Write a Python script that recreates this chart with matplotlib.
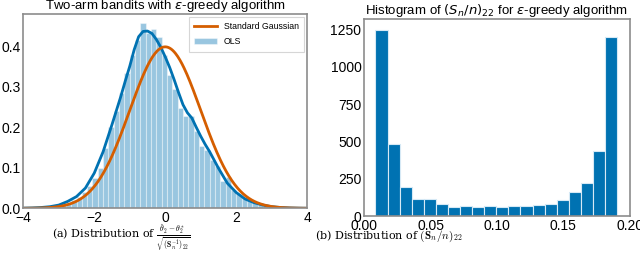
import numpy as np
import matplotlib
matplotlib.use("Agg")
import matplotlib.pyplot as plt

# ---- Data: left panel (density histogram of standardized OLS estimate) ----
hist_left_start = -3.7
hist_left_width = 0.15
hist_left_heights = [0.002, 0.003, 0.004, 0.005, 0.007, 0.010, 0.014, 0.020,
                     0.028, 0.040, 0.055, 0.075, 0.100, 0.150, 0.200, 0.240,
                     0.285, 0.335, 0.380, 0.415, 0.457, 0.434, 0.444, 0.423,
                     0.378, 0.330, 0.294, 0.249, 0.227, 0.229, 0.190, 0.153,
                     0.145, 0.120, 0.105, 0.068, 0.078, 0.046, 0.036, 0.028,
                     0.022, 0.016, 0.011, 0.008, 0.005, 0.003, 0.002, 0.001]

kde_x = [-4.0, -3.75, -3.5, -3.25, -3.0, -2.75, -2.5, -2.25, -2.0, -1.75,
         -1.5, -1.25, -1.125, -1.0, -0.875, -0.75, -0.625, -0.5, -0.375,
         -0.25, -0.125, 0.0, 0.125, 0.25, 0.375, 0.5, 0.625, 0.75, 0.875,
         1.0, 1.125, 1.25, 1.5, 1.75, 2.0, 2.25, 2.5, 2.75, 3.0, 3.25, 3.5,
         3.75, 4.0]
kde_y = [0.0005, 0.001, 0.002, 0.004, 0.008, 0.017, 0.029, 0.050, 0.087, 0.140,
         0.207, 0.277, 0.315, 0.351, 0.392, 0.424, 0.437, 0.438, 0.432,
         0.417, 0.398, 0.374, 0.348, 0.318, 0.286, 0.256, 0.236, 0.223, 0.200,
         0.178, 0.158, 0.140, 0.099, 0.062, 0.039, 0.023, 0.014, 0.008, 0.004,
         0.002, 0.001, 0.0005, 0.0002]

# ---- Data: right panel (counts of (S_n/n)_22) ----
hist_right_start = 0.0085
hist_right_width = 0.0091
hist_right_counts = [1243, 480, 191, 115, 111, 82, 60, 64, 60, 67,
                     60, 67, 64, 71, 78, 109, 158, 220, 435, 1201]

left_xticks = [-4, -2, 0, 2, 4]
left_yticks = [0.0, 0.1, 0.2, 0.3, 0.4]
right_xticks = [0.00, 0.05, 0.10, 0.15, 0.20]
right_yticks = [0, 250, 500, 750, 1000, 1250]

BLUE = "#0072B2"
ORANGE = "#D55E00"
SPINE = "#8c8c8c"

plt.rcParams["font.family"] = ["Liberation Sans", "DejaVu Sans"]
plt.rcParams["axes.edgecolor"] = SPINE
plt.rcParams["axes.linewidth"] = 1.2

fig = plt.figure(figsize=(6.4, 2.7), dpi=100)

# ---------------- Left panel ----------------
ax1 = fig.add_axes([0.0364, 0.2285, 0.4436, 0.7195])
edges_l = hist_left_start + hist_left_width * np.arange(len(hist_left_heights))
ax1.bar(edges_l, hist_left_heights, width=hist_left_width, align="edge",
        color=BLUE, alpha=0.4, edgecolor="white", linewidth=0.8, label="OLS")
ax1.plot(kde_x, kde_y, color=BLUE, lw=2.0)
xs = np.linspace(-4, 4, 400)
ax1.plot(xs, np.exp(-xs ** 2 / 2) / np.sqrt(2 * np.pi), color=ORANGE, lw=2.0,
         label="Standard Gaussian")
ax1.set_xlim(-4, 4)
ax1.set_ylim(0, 0.48)
ax1.set_xticks(left_xticks)
ax1.set_xticklabels(["\u22124", "\u22122", "0", "2", "4"])
ax1.set_yticks(left_yticks)
ax1.set_yticklabels([f"{v:.1f}" for v in left_yticks])
ax1.tick_params(length=0, labelsize=10, pad=2)
ax1.set_title(r"Two-arm bandits with $\varepsilon$-greedy algorithm",
              fontsize=9.5, pad=1)
leg = ax1.legend(loc="upper right", fontsize=6.3, frameon=True, fancybox=False,
                 borderpad=0.6, handlelength=2.6, borderaxespad=0.35,
                 labelspacing=0.7)
leg.get_frame().set_edgecolor("#cccccc")
leg.get_frame().set_linewidth(0.8)

# ---------------- Right panel ----------------
ax2 = fig.add_axes([0.569, 0.2, 0.415, 0.73])
edges_r = hist_right_start + hist_right_width * np.arange(len(hist_right_counts))
ax2.bar(edges_r, hist_right_counts, width=hist_right_width, align="edge",
        color=BLUE, edgecolor="#d6e9f5", linewidth=0.8)
ax2.set_xlim(0, 0.2)
ax2.set_ylim(0, 1320)
ax2.set_xticks(right_xticks)
ax2.set_xticklabels([f"{v:.2f}" for v in right_xticks])
ax2.set_yticks(right_yticks)
ax2.tick_params(length=0, labelsize=10, pad=2)
ax2.set_title(r"Histogram of $(S_n/n)_{22}$ for $\varepsilon$-greedy algorithm",
              fontsize=9.5, pad=1)

# ---------------- Captions ----------------
fig.text(0.19, 0.115,
         r"(a) Distribution of $\frac{\boldsymbol{\hat{\theta}}_2-\theta_2^*}{\sqrt{(\mathbf{S}_n^{-1})_{22}}}$",
         ha="center", va="baseline", fontsize=8, family="DejaVu Serif",
         math_fontfamily="cm")
fig.text(0.607, 0.115, r"(b) Distribution of $(\mathbf{S}_n/n)_{22}$",
         ha="center", va="baseline", fontsize=8, family="DejaVu Serif",
         math_fontfamily="cm")

fig.savefig("out.png", dpi=100)
